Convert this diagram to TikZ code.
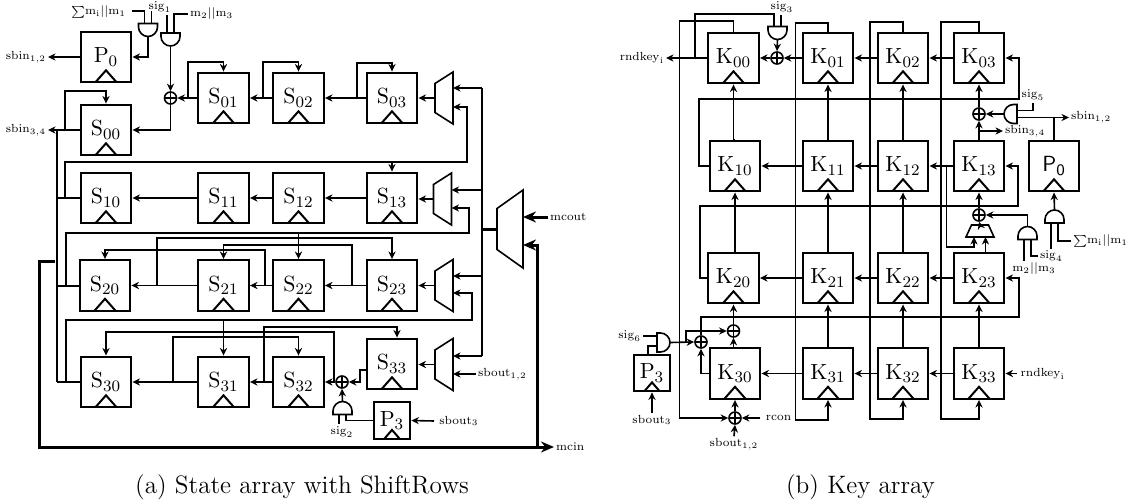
\documentclass[tikz,border=0pt]{standalone}
\usepackage{amsmath,amssymb}
\usetikzlibrary{arrows.meta,positioning,calc}
\tikzset{
  wire/.style={line width=0.8pt},
  arr/.style={wire,-{Stealth[length=3.8pt,width=3.6pt]}},
  bus/.style={line width=1.5pt},
  busarr/.style={bus,-{Stealth[length=6.5pt,width=5.5pt]}},
  clk/.style 2 args={path picture={
    \draw[line width=1pt] ([xshift=-#1]path picture bounding box.south)
      -- ([yshift=#2]path picture bounding box.south)
      -- ([xshift=#1]path picture bounding box.south);}},
  regbox/.style={draw,line width=1.15pt,minimum size=25.3pt,inner sep=0pt,
    font=\fontsize{10.95}{12}\selectfont,clk={5.3pt}{6pt}},
  smallbox/.style={regbox,minimum size=18.2pt,clk={3.8pt}{4.4pt}},
  xorgate/.style={circle,draw,wire,minimum size=6pt,inner sep=0pt,path picture={
    \draw[wire] (path picture bounding box.north) -- (path picture bounding box.south)
      (path picture bounding box.west) -- (path picture bounding box.east);}},
  gatebody/.style={inner sep=0pt,outer sep=0pt,minimum width=6.5pt,minimum height=9.5pt},
  muxbody/.style 2 args={inner sep=0pt,outer sep=0pt,minimum width=#1,minimum height=#2},
  lbl/.style={font=\scriptsize,inner sep=1pt,scale=0.84},
  captext/.style={font=\fontsize{12}{14}\selectfont,inner sep=0pt,scale=1.05}
}
\begin{document}
\begin{tikzpicture}[x=0.5pt,y=-0.5pt]
  \useasboundingbox (0,0) rectangle (1130,503);

  % State registers
  \foreach \nm/\x/\y in {00/106/130, 01/223.5/98, 02/298.5/98, 03/392/98,
    10/106/198, 11/223.5/198, 12/298.5/198, 13/392/198,
    20/105/285.5, 21/223.5/285.5, 22/298.5/285.5, 23/392/285.5,
    30/106/382, 31/223.5/382, 32/298.5/382, 33/392/364} {
    \node[regbox] (S\nm) at (\x,\y) {$\mathrm{S}_{\nm}$};
  }
  \node[regbox] (P0a) at (106,57) {$\mathrm{P}_0$};
  \node[smallbox] (P3a) at (392,420.5) {$\mathrm{P}_3$};
  \node[xorgate] (xorS0) at (170.5,98) {};
  \node[xorgate] (xorS3) at (342,382) {};

  % AND gates of both arrays, drawn facing the way they point
  \foreach \g/\x/\y/\ang in {andP0a/148/30/-90, andS1/170.5/39.5/-90, andS2/342.5/408/90,
    andK3/777.5/33/-90, andK5/1010.5/114/180, andK4/1027.5/233/90,
    andP0b/1054.5/216.5/90, andK6/663.5/342.5/0} {
    \node[gatebody,rotate=\ang] (\g) at (\x,\y) {};
    \draw[wire] (\g.north west) -- ($(\g.north west)!0.27!(\g.north east)$)
      .. controls ($(\g.north west)!0.67!(\g.north east)$) and ($(\g.east)!0.55!(\g.north east)$) .. (\g.east)
      .. controls ($(\g.east)!0.55!(\g.south east)$) and ($(\g.south west)!0.67!(\g.south east)$)
      .. ($(\g.south west)!0.27!(\g.south east)$) -- (\g.south west) -- cycle;
    \coordinate (\g-a) at ($(\g.north west)!0.316!(\g.south west)$);
    \coordinate (\g-b) at ($(\g.north west)!0.684!(\g.south west)$);
  }

  % Muxes of the state array
  \foreach \m/\x/\y/\mw/\mh/\cut in {muxA/444/98/9pt/26pt/5.75pt, muxB/442.5/199/9pt/26pt/5.75pt,
    muxC/444/285.5/9pt/26pt/5.75pt, muxD/444/364.5/9pt/26pt/5.75pt,
    muxBig/510/229/13pt/39pt/9.25pt} {
    \node[muxbody={\mw}{\mh}] (\m) at (\x,\y) {};
    \draw[wire] (\m.south east) -- (\m.north east)
      -- ([yshift=-\cut]\m.north west) -- ([yshift=\cut]\m.south west) -- cycle;
  }

  % Labels of the state array
  \node[lbl,anchor=east] (lblSumA) at (128,12) {$\mathord{\sum}\mathrm{m}_{\mathrm{i}}||\mathrm{m}_1$};
  \node[lbl] (lblSig1) at (160,7) {$\mathrm{sig}_1$};
  \node[lbl,anchor=west] (lblM23A) at (188,14) {$\mathrm{m}_2||\mathrm{m}_3$};
  \node[lbl,anchor=east] (lblSbin12A) at (48,57) {$\mathrm{sbin}_{1,2}$};
  \node[lbl,anchor=east] (lblSbin34A) at (48,130) {$\mathrm{sbin}_{3,4}$};
  \node[lbl,anchor=west] (lblMcout) at (548,217) {mcout};
  \node[lbl,anchor=west] (lblMcin) at (554,447) {mcin};
  \node[lbl,anchor=west] (lblSbout12A) at (476,374) {$\mathrm{sbout}_{1,2}$};
  \node[lbl,anchor=west,inner sep=3pt] (lblSbout3A) at (434,421) {$\mathrm{sbout}_3$};
  \node[lbl] (lblSig2) at (342,432) {$\mathrm{sig}_2$};
  \node[captext] (capA) at (302,487) {(a) State array with ShiftRows};

  % Row shifts
  \foreach \a/\b in {S03/S02, S02/S01, S13/S12, S12/S11, S11/S10, S23/S22,
    S22/S21, S21/S20, S32/S31, S31/S30} {
    \draw[arr] (\a.west) -- (\b.east);
  }
  \draw[arr] (S01.west) -- (xorS0.east);
  \draw[arr] (xorS0.south) |- (S00.east);
  \draw[arr] (andS1.east) -- (xorS0.north);
  \draw[arr] (S33.west |- 0,370) -- (360,370) -- (360,382) -- (xorS3.east);
  \draw[arr] (xorS3.west) -- (S32.east);
  \draw[arr] (andS2.east) -- (xorS3.south);

  % Feedback on the top row
  \draw[arr] (65,130) -- (65,91) -| (S00.north);
  \draw[arr] (188,98) -- (188,62) -| (S01.north);
  \draw[arr] (263,98) -- (263,62) -| (S02.north);
  \draw[arr] (357,98) -- (357,63) -| (S03.north);

  % P0 and its inputs
  \draw[arr] (P0a.west) -- (lblSbin12A.east);
  \draw[arr] (S00.west) -- (lblSbin34A.east);
  \draw[arr] (andP0a.east) |- (P0a.east);
  \draw[wire] (132,11) -| (andP0a-b);
  \draw[wire] (andP0a-a) -- (andP0a-a |- 0,11);
  \draw[wire] (andS1-b) -- (andS1-b |- lblSig1.south);
  \draw[wire] (lblM23A.west) -| (andS1-a);

  % Mux outputs
  \foreach \m/\r in {muxA/S03, muxB/S13, muxC/S23, muxD/S33} {
    \draw[arr] (\m.west) -- (\r.east |- \m.west);
  }

  % Shared rails
  \draw[wire] (57,130) -- (57,382);
  \draw[wire] (57,198) -- (S10.west);
  \draw[wire,line width=1pt] (57,285.5) -- (S20.west);
  \draw[wire] (57,382) -- (S30.west);
  \draw[wire,line width=0.9pt] (482,88) -- (482,356);
  \draw[bus] (muxBig.west) -- (482,0 |- muxBig.west);
  \foreach \m/\y in {muxA/88, muxB/190, muxC/276, muxD/356} {
    \draw[arr] (482,\y) -- (\m.east |- 482,\y);
  }

  % Row wiring of ShiftRows
  \draw[arr] (65,198) -- (65,162) -- (467,162) |- (muxA.east |- 467,107);
  \draw[arr] (392,162) -- (S13.north);
  \draw[arr] (66,285.5) -- (66,233) -- (469,233) |- (muxB.east |- 469,208);
  \draw[arr] (298.5,233) -- (S22.north);
  \draw[arr] (66,382) -- (66,320) -- (472,320) |- (muxC.east |- 472,293);
  \draw[arr] (223.5,320) -- (S31.north);
  \draw[arr] (157,285.5) -- (157,238) -| (S23.north);
  \draw[arr] (352,285.5) -- (352,245) -| (S21.north);
  \draw[arr] (265,285.5) -- (265,250) -| (S20.north);
  \draw[arr] (264,382) -- (264,327) -- (397,327) -- (397,0 |- S33.north);
  \draw[arr] (173,382) -- (173,337) -| (S32.north);
  \draw[arr] (334,382) -- (334,332) -| (S30.north);

  % Bottom of the state array
  \draw[wire] (P3a.west) -| (andS2-b);
  \draw[wire] (andS2-a |- lblSig2.north) -- (andS2-a);
  \draw[arr] (lblSbout3A.west) -- (P3a.east);
  \draw[arr] (lblSbout12A.west) -- (muxD.east |- lblSbout12A.west);

  % Wide mux
  \draw[busarr] (lblMcout.west) -- (muxBig.east |- lblMcout.west);
  \draw[busarr] (55,261) -- (39,261) -- (39,447) -- (lblMcin.west);
  \draw[busarr] (537,447) |- (muxBig.east |- 537,245);

  % Key registers
  \foreach \nm/\x/\y in {00/733.5/58, 01/828/58, 02/903/58, 03/979/58,
    10/735/166, 11/828/166, 12/903/166, 13/979/166,
    20/733.5/278, 21/828/278, 22/903/278, 23/979/278,
    30/735/373.5, 31/828/373.5, 32/903/373.5, 33/979/373.5} {
    \node[regbox] (K\nm) at (\x,\y) {$\mathrm{K}_{\nm}$};
  }
  \node[regbox] (P0b) at (1054,166) {$\mathsf{P}_{\mathsf{0}}$};
  \node[smallbox] (P3b) at (652,373) {$\mathrm{P}_3$};

  % Gates of the key array
  \node[xorgate] (xorK0) at (777,58) {};
  \node[xorgate] (xorK1) at (979,114) {};
  \node[xorgate] (xorK2) at (979,215) {};
  \node[xorgate] (xorK3) at (735,418) {};
  \node[xorgate] (xorKa) at (701,342) {};
  \node[xorgate] (xorKb) at (733.5,331) {};
  \node[muxbody={14pt}{6pt}] (muxK) at (980,231) {};
  \draw[wire] (muxK.south west) -- (muxK.south east)
    -- ([xshift=-2.75pt]muxK.north east) -- ([xshift=2.75pt]muxK.north west) -- cycle;

  % Labels of the key array
  \node[lbl,anchor=east] (lblRndA) at (666,58) {$\mathrm{rndkey}_{\mathrm{i}}$};
  \node[lbl] (lblSig3) at (782,7) {$\mathrm{sig}_3$};
  \node[lbl,anchor=west] (lblSbin34B) at (1003,131) {$\mathrm{sbin}_{3,4}$};
  \node[lbl] (lblSig5) at (1033,95) {$\mathrm{sig}_5$};
  \node[lbl,anchor=west] (lblSbin12B) at (1069,117) {$\mathrm{sbin}_{1,2}$};
  \node[lbl] (lblM23B) at (1034,269) {$\mathrm{m}_2||\mathrm{m}_3$};
  \node[lbl,anchor=west] (lblSig4) at (1038,256) {$\mathrm{sig}_4$};
  \node[lbl,anchor=west] (lblSumB) at (1071,241) {$\mathord{\sum}\mathrm{m}_{\mathrm{i}}||\mathrm{m}_1$};
  \node[lbl,anchor=east] (lblSig6) at (643,336) {$\mathrm{sig}_6$};
  \node[lbl] (lblSbout3B) at (652,420) {$\mathrm{sbout}_3$};
  \node[lbl] (lblSbout12B) at (734,444) {$\mathrm{sbout}_{1,2}$};
  \node[lbl,inner sep=3pt] (lblRcon) at (778.5,418) {rcon};
  \node[lbl,anchor=west,inner sep=2pt] (lblRndB) at (1017,373.5) {$\mathrm{rndkey}_{\mathrm{i}}$};
  \node[captext] (capB) at (860.5,487) {(b) Key array};

  % Key shifts and columns
  \foreach \a/\b in {K03/K02, K02/K01, K13/K12, K12/K11, K11/K10, K23/K22,
    K22/K21, K21/K20, K33/K32, K32/K31, K31/K30} {
    \draw[arr] (\a.west) -- (\b.east);
  }
  \foreach \a/\b in {K11/K01, K12/K02, K21/K11, K22/K12, K31/K21, K32/K22, K33/K23} {
    \draw[arr] (\a.north) -- (\b.south);
  }
  \draw[arr] (K10.north) -- (K10.north -| K00.south) -- (K00.south);
  \draw[arr] (K20.north) -- (K20.north -| K10.south) -- (K10.south);
  \draw[arr] (K01.west) -- (xorK0.east);
  \draw[arr] (xorK0.west) -- (K00.east);
  \draw[arr] (K00.west) -- (lblRndA.east);
  \draw[arr] (andK3.east) -- (xorK0.north);
  \draw[wire] (695,58) -- (695,14) -| (andK3-b);
  \draw[wire] (andK3-a) -- (andK3-a |- lblSig3.south);

  % Long loops round the columns
  \draw[arr] (K00.north) -- (733.5,21) -- (679.5,21) |- (xorK3.west);
  \draw[arr] (K01.north) -- (828,23) -- (795.5,23) -- (795.5,420) -| (K31.south);
  \draw[arr] (K02.north) -- (903,22) -- (870,22) -- (870,419) -| (K32.south);
  \draw[arr] (K03.north) -- (979,22) -- (941,22) -- (941,419) -| (K33.south);
  \draw[arr] (K10.west) -- (699,166) -- (699,99) -- (1019,99) |- (K03.east);
  \draw[arr] (K20.west) -- (700,278) -- (700,206) -- (1018,206) |- (K13.east);
  \draw[arr] (xorKa.north) -- (701,317) -- (1019,317) |- (K23.east);

  % Around K03 and K13
  \draw[arr] (K13.north) -- (xorK1.south);
  \draw[arr] (xorK1.north) -- (K03.south);
  \draw[arr] (979,131) -- (lblSbin34B.west);
  \draw[arr] (andK5.east) -- (xorK1.east);
  \draw[wire] (andK5-b) -| (lblSig5.south);
  \draw[arr] (andK5-a) -- (lblSbin12B.west |- andK5-a);
  \draw[wire] (P0b.north) -- (P0b.north |- andK5-a);
  \draw[arr] (andP0b.east) -- (P0b.south);
  \draw[wire] (andP0b-a) -- (andP0b-a |- lblSumB.south);
  \draw[wire] (andP0b-b) |- (lblSumB.west);
  \draw[arr] (xorK2.north) -- (K13.south);
  \draw[arr] (muxK.north) -- (xorK2.south);
  \draw[arr] (985.5,0 |- K23.north) -- (985.5,0 |- muxK.south);
  \draw[arr] (946.5,166) -- (946.5,247) -- (974,247) -- (974,0 |- muxK.south);
  \draw[arr] (andK4.east) |- (xorK2.east);
  \draw[wire] (andK4-a) -- (andK4-a |- lblM23B.north);
  \draw[wire] (andK4-b) |- (lblSig4.west);
  \draw[arr] (lblRndB.west) -- (K33.east);

  % Around K30
  \draw[arr] (K30.west) -| (xorKa.south);
  \draw[arr] (andK6.east) -- (xorKa.west);
  \draw[arr] (686,342) |- (xorKb.west);
  \draw[arr] (xorKb.south |- K30.north) -- (xorKb.south);
  \draw[arr] (xorKb.north) -- (K20.south);
  \draw[wire] (lblSig6.east) -- (lblSig6.east -| andK6-a);
  \draw[wire] (andK6-b) -- (648,0 |- andK6-b) -- (648,0 |- P3b.north);
  \draw[arr] (lblSbout3B.north) -- (P3b.south);
  \draw[arr] (lblRcon.west) -- (xorK3.east);
  \draw[arr] (lblSbout12B.north) -- (xorK3.south);
  \draw[arr] (xorK3.north) -- (K30.south);
\end{tikzpicture}
\end{document}
